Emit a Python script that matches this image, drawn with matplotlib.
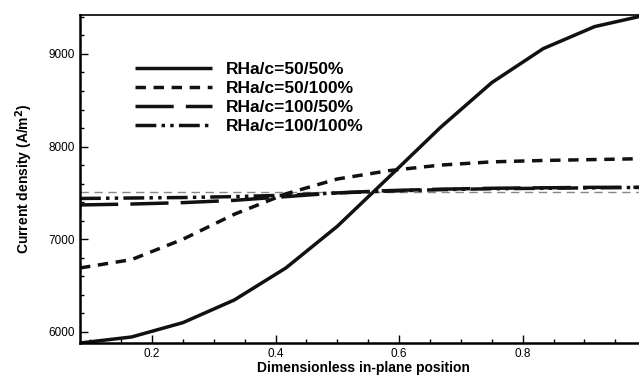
import numpy as np
import matplotlib
matplotlib.use('Agg')
import matplotlib.pyplot as plt
from matplotlib.ticker import MultipleLocator, FixedLocator

plt.rcParams['font.family'] = ['Liberation Sans', 'DejaVu Sans']

# dimensionless positions (12 points)
x = [1/12, 2/12, 3/12, 4/12, 5/12, 6/12, 7/12, 8/12, 9/12, 10/12, 11/12, 12/12]

rh_50_50 = [5880, 5945, 6100, 6345, 6690, 7140, 7670, 8205, 8690, 9057, 9295, 9420]
rh_50_100 = [6690, 6780, 7000, 7270, 7490, 7650, 7740, 7800, 7835, 7850, 7860, 7870]
rh_100_50 = [7370, 7380, 7395, 7420, 7460, 7500, 7525, 7540, 7550, 7555, 7560, 7560]
rh_100_100 = [7440, 7445, 7450, 7460, 7475, 7500, 7520, 7535, 7545, 7550, 7555, 7560]
mean_level = 7505

xticks = [0.2, 0.4, 0.6, 0.8]
labels = ['RHa/c=50/50%', 'RHa/c=50/100%', 'RHa/c=100/50%', 'RHa/c=100/100%']

fig = plt.figure(figsize=(6.39, 3.75), dpi=100)
ax = fig.add_axes([0.1252, 0.0853, 0.886, 0.8747])

ax.axhline(mean_level, color='#888888', lw=1.0, ls=(0, (6, 4)), zorder=1)

lw = 2.5
l1, = ax.plot(x, rh_50_50, color='#111111', lw=lw, solid_capstyle='butt')
l2, = ax.plot(x, rh_50_100, color='#111111', lw=lw, ls=(0, (3, 2.2)))
l3, = ax.plot(x, rh_100_50, color='#111111', lw=lw, ls=(0, (11, 3.5)))
l4, = ax.plot(x, rh_100_100, color='#111111', lw=lw,
              ls=(0, (6, 1.5, 1, 1.5, 1, 1.5)))

ax.set_xlim(1/12, 1.0)
ax.set_ylim(5880, 9420)

ax.xaxis.set_major_locator(FixedLocator(xticks))
ax.xaxis.set_minor_locator(MultipleLocator(0.05))
ax.yaxis.set_major_locator(MultipleLocator(1000))
ax.yaxis.set_minor_locator(MultipleLocator(200))
ax.tick_params(which='both', direction='in', top=False, right=False,
               labelsize=8.5, width=1.0)
ax.tick_params(which='major', length=6)
ax.tick_params(which='minor', length=3)
for s in ['left', 'bottom']:
    ax.spines[s].set_linewidth(1.8)
ax.spines['top'].set_linewidth(1.2)
ax.spines['right'].set_visible(False)

ax.set_xlabel('Dimensionless in-plane position', fontsize=10, fontweight='bold',
              labelpad=1)
ax.set_ylabel('Current density (A/m$^\\mathbf{2}$)', fontsize=10,
              fontweight='bold', labelpad=10)

leg = ax.legend([l1, l2, l3, l4], labels, loc='upper left',
                bbox_to_anchor=(0.07, 0.905), frameon=False,
                prop={'size': 12.5, 'weight': 'bold'}, handlelength=4.4,
                handletextpad=0.8, labelspacing=0.22)

fig.savefig('out.png', dpi=100)
